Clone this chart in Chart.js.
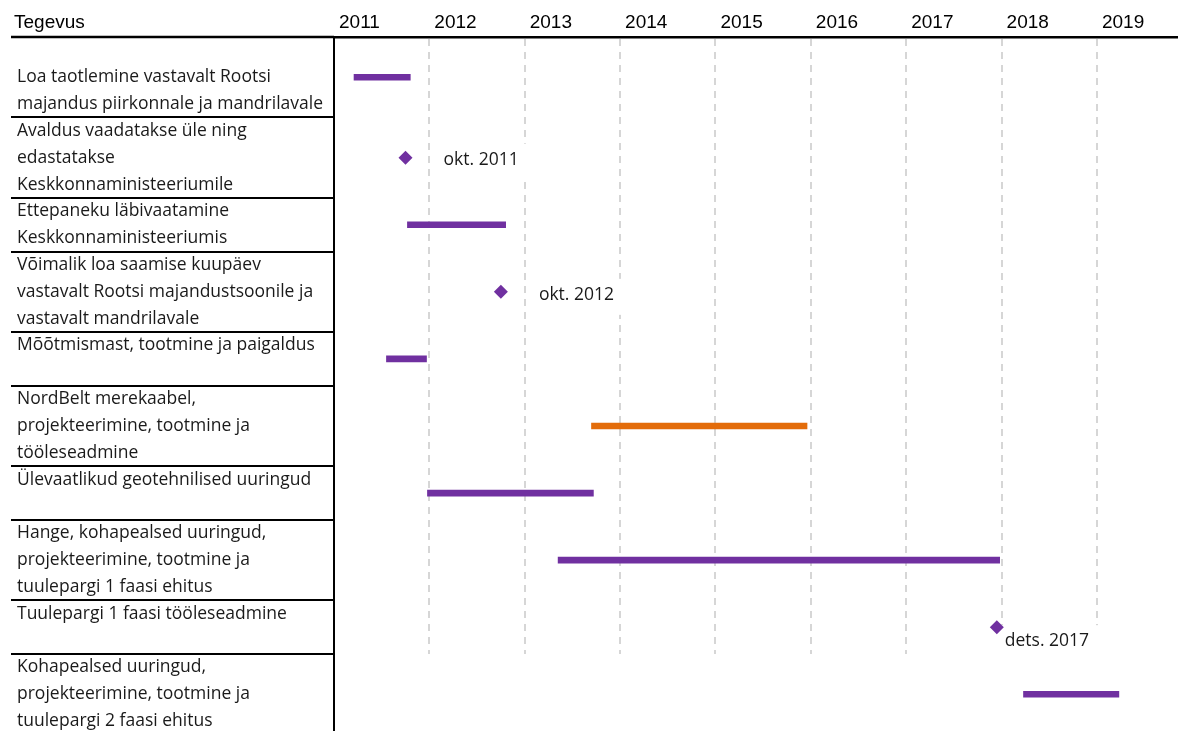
<!DOCTYPE html>
<html>
<head>
<meta charset="utf-8">
<script src="https://cdn.jsdelivr.net/npm/chart.js@4/dist/chart.umd.min.js"></script>
<style>
  html, body { margin: 0; padding: 0; background: #fff; }
  #wrap { width: 1178px; height: 731px; position: relative; }
</style>
</head>
<body>
<div id="wrap"><canvas id="canvas"></canvas></div>
<script>
// tegevused (vasak veerg), iga rida = üks tekstirida
const taskLabels = [
    ['', 'Loa taotlemine vastavalt Rootsi', 'majandus piirkonnale ja mandrilavale'],
    ['Avaldus vaadatakse üle ning', 'edastatakse', 'Keskkonnaministeeriumile'],
    ['Ettepaneku läbivaatamine', 'Keskkonnaministeeriumis'],
    ['Võimalik loa saamise kuupäev', 'vastavalt Rootsi majandustsoonile ja', 'vastavalt mandrilavale'],
    ['Mõõtmismast, tootmine ja paigaldus', ''],
    ['NordBelt merekaabel,', 'projekteerimine, tootmine ja', 'tööleseadmine'],
    ['Ülevaatlikud geotehnilised uuringud', ''],
    ['Hange, kohapealsed uuringud,', 'projekteerimine, tootmine ja', 'tuulepargi 1 faasi ehitus'],
    ['Tuulepargi 1 faasi tööleseadmine', ''],
    ['Kohapealsed uuringud,', 'projekteerimine, tootmine ja', 'tuulepargi 2 faasi ehitus']
]
const years = [2011, 2012, 2013, 2014, 2015, 2016, 2017, 2018, 2019]

// ribad (aastates)
const barTask  = [0, 2, 4, 5, 6, 7, 9]
const barStart = [2011.21, 2011.77, 2011.55, 2013.70, 2011.98, 2013.35, 2018.23]
const barEnd   = [2011.80, 2012.80, 2011.97, 2015.96, 2013.72, 2017.98, 2019.23]
const barKind  = ['tuulepark', 'tuulepark', 'tuulepark', 'kaabel', 'tuulepark', 'tuulepark', 'tuulepark']

// verstapostid
const milestoneTask  = [1, 3, 8]
const milestoneValue = [2011.75, 2012.75, 2017.95]
const milestoneText  = ['okt. 2011', 'okt. 2012', 'dets. 2017']

const PURPLE = '#7030a0'
const ORANGE = '#e36c0a'
const LABEL_FONT = '"Open Sans", sans-serif'
const labelShift = [[38, 2], [38, 3], [8, 14]]

// rea piirid ja keskkohad tekstiridade ühikutes
const rowEdges = [0]
taskLabels.forEach(lines => rowEdges.push(rowEdges[rowEdges.length - 1] + lines.length))
const rowCenter = taskLabels.map((lines, i) => rowEdges[i] + lines.length / 2)

const ganttDecor = {
    id: 'ganttDecor',
    beforeDatasetsDraw(chart) {
        const {ctx, chartArea, scales: {x, y}} = chart
        ctx.save()

        // aastate katkendjooned, viimase rea kohal neid pole
        const yEnd = y.getPixelForValue(rowEdges[rowEdges.length - 2])
        ctx.strokeStyle = '#d6d6d6'
        ctx.lineWidth = 2
        ctx.setLineDash([7, 6])
        x.ticks.forEach(t => {
            if (t.value === x.min) return
            const px = Math.round(x.getPixelForValue(t.value))
            ctx.beginPath()
            ctx.moveTo(px, chartArea.top + 2)
            ctx.lineTo(px, yEnd)
            ctx.stroke()
        })

        // tabeli joonad vasakus veerus
        ctx.setLineDash([])
        ctx.strokeStyle = '#000'
        rowEdges.forEach((v, i) => {
            const py = Math.round(y.getPixelForValue(v))
            ctx.lineWidth = i === 0 ? 2.5 : 2
            ctx.beginPath()
            ctx.moveTo(11, py)
            ctx.lineTo(chartArea.left, py)
            ctx.stroke()
        })

        // päis
        ctx.fillStyle = '#000'
        ctx.font = '19px "Liberation Sans", Arial, sans-serif'
        ctx.textBaseline = 'middle'
        ctx.textAlign = 'left'
        ctx.fillText('Tegevus', 14, x.bottom - 3 - 11.4)

        // verstapostide sildid valgel taustal
        const meta = chart.getDatasetMeta(1)
        ctx.font = '17.5px ' + LABEL_FONT
        meta.data.forEach((pt, i) => {
            const tx = pt.x + labelShift[i][0]
            const ty = pt.y + labelShift[i][1]
            const w = ctx.measureText(milestoneText[i]).width
            ctx.fillStyle = '#fff'
            ctx.fillRect(tx - 10, ty - 16, w + 20, 36)
            ctx.fillStyle = '#1a1a1a'
            ctx.fillText(milestoneText[i], tx, ty)
        })
        ctx.restore()
    }
}

const canvas = document.getElementById('canvas')
new Chart(canvas, {
    type: 'bar',
    data: {
        datasets: [
            {
                type: 'bar',
                label: 'Tegevus',
                indexAxis: 'y',
                data: barTask.map((t, i) => ({x: [barStart[i], barEnd[i]], y: rowCenter[t]})),
                backgroundColor: barKind.map(k => k === 'kaabel' ? ORANGE : PURPLE),
                barThickness: 6,
                grouped: false,
                borderWidth: 0
            },
            {
                type: 'scatter',
                label: 'Verstapost',
                data: milestoneTask.map((t, i) => ({x: milestoneValue[i], y: rowCenter[t]})),
                pointStyle: 'rectRot',
                pointRadius: 7,
                backgroundColor: PURPLE,
                borderWidth: 0
            }
        ]
    },
    options: {
        responsive: true,
        maintainAspectRatio: false,
        animation: false,
        events: [],
        layout: {autoPadding: false, padding: {left: 17, right: 0, top: 0, bottom: 0}},
        plugins: {
            legend: {display: false},
            tooltip: {enabled: false}
        },
        scales: {
            x: {
                type: 'linear',
                position: 'top',
                offset: false,
                min: 2011,
                max: 2019.85,
                afterBuildTicks: s => { s.ticks = years.map(v => ({value: v})) },
                afterFit: s => {
                    s.height = 37
                    s.paddingLeft = 0
                    s.paddingRight = 0
                },
                ticks: {
                    align: 'start',
                    labelOffset: 5,
                    padding: 3,
                    color: '#000',
                    font: {family: '"Liberation Sans", Arial, sans-serif', size: 19},
                    callback: v => String(v)
                },
                grid: {display: false, drawTicks: false, offset: false},
                border: {display: true, color: '#000', width: 2.5}
            },
            y: {
                type: 'linear',
                reverse: true,
                offset: false,
                min: 0,
                max: 25.87,
                afterBuildTicks: s => { s.ticks = rowCenter.map(v => ({value: v})) },
                afterFit: s => {
                    s.width = 317
                    s.paddingTop = 0
                    s.paddingBottom = 0
                },
                ticks: {
                    autoSkip: false,
                    crossAlign: 'far',
                    padding: 0,
                    color: '#1a1a1a',
                    font: {family: LABEL_FONT, size: 17.5, lineHeight: '26.83px'},
                    callback: (v, i) => taskLabels[i]
                },
                grid: {display: false, drawTicks: false, offset: false},
                border: {display: true, color: '#000', width: 2}
            }
        }
    },
    plugins: [ganttDecor]
})
</script>
</body>
</html>
